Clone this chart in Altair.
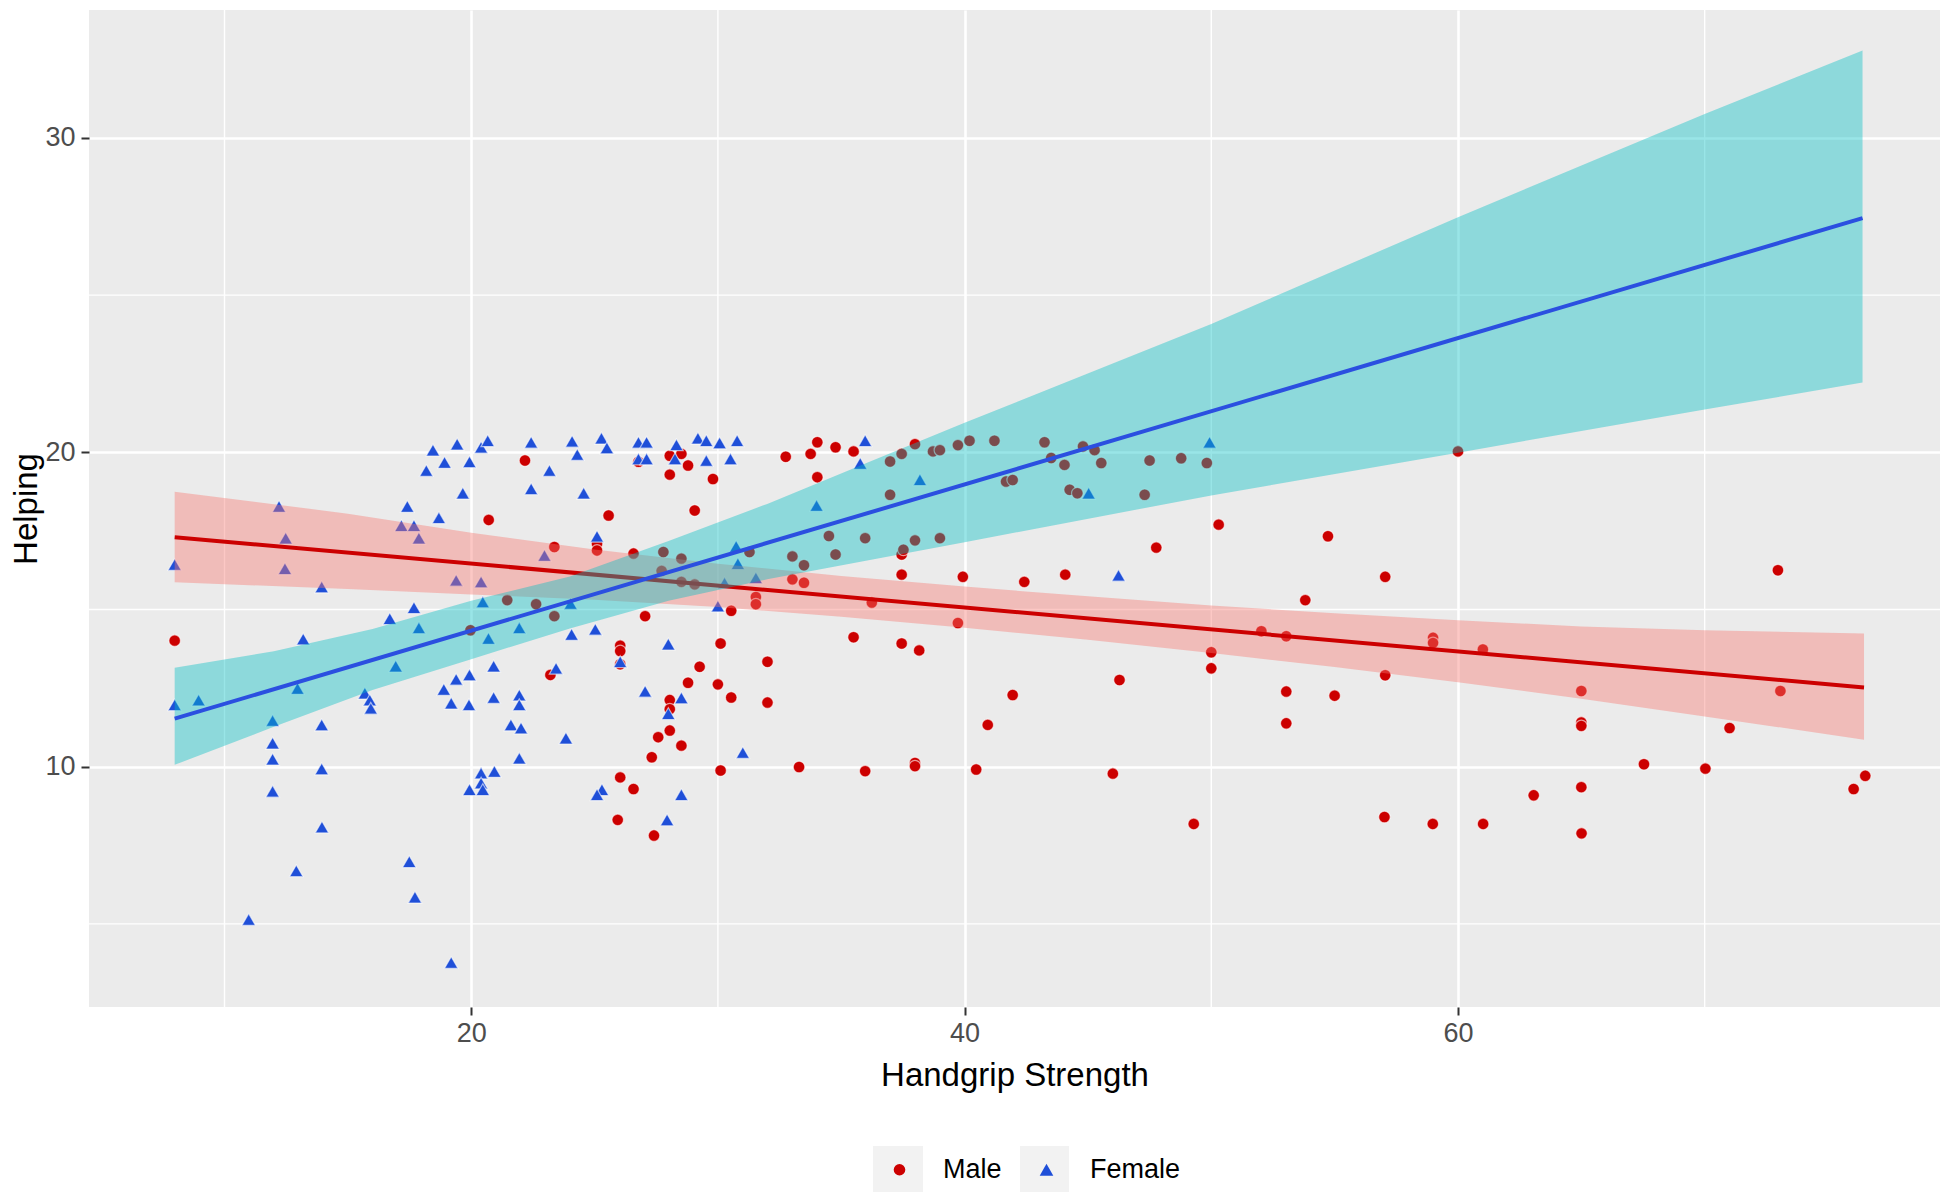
import altair as alt
import pandas as pd

FONT = "Liberation Sans"

# ---- data ----
male_pts = [
    (7.98, 14.01), (22.18, 19.74), (20.71, 17.85), (23.37, 16.99), (21.46, 15.30), (22.63, 15.17),
    (23.37, 14.79), (19.97, 14.34), (23.21, 12.92),
    (34.03, 20.32), (34.77, 20.16), (35.50, 20.03), (33.76, 19.95), (32.75, 19.86), (34.03, 19.21),
    (28.05, 19.89), (28.52, 19.95), (26.78, 19.70), (28.79, 19.58), (28.05, 19.29), (29.80, 19.15),
    (29.06, 18.15), (25.57, 17.99), (25.10, 17.09), (25.10, 16.88), (26.58, 16.78), (27.79, 16.83),
    (28.52, 16.62), (31.28, 16.83), (27.72, 16.23), (28.52, 15.88), (29.06, 15.80), (33.02, 16.69),
    (33.49, 16.41), (33.02, 15.96), (33.49, 15.85), (31.54, 15.40), (31.54, 15.17), (30.54, 14.96),
    (27.05, 14.79), (26.04, 13.85), (26.04, 13.68), (26.04, 13.26), (30.11, 13.92), (32.01, 13.34),
    (29.26, 13.18), (28.79, 12.67), (30.00, 12.62), (30.54, 12.20), (32.01, 12.04), (28.05, 12.12),
    (28.05, 11.83), (28.05, 11.15), (27.58, 10.94), (28.52, 10.67), (27.32, 10.30), (30.11, 9.88),
    (26.04, 9.66), (26.58, 9.29), (33.29, 9.99), (35.97, 9.86), (37.99, 10.12), (37.99, 10.02),
    (40.47, 9.91), (40.94, 11.33), (41.95, 12.28), (35.50, 14.12), (37.45, 13.92), (38.16, 13.70),
    (39.73, 14.57), (36.24, 15.22), (37.45, 16.11), (39.93, 16.04), (42.42, 15.88), (37.45, 16.75),
    (37.52, 16.90), (34.50, 17.34), (35.97, 17.27), (37.99, 17.20), (39.00, 17.27), (34.77, 16.75),
    (36.98, 18.65), (36.98, 19.71), (37.45, 19.95), (37.99, 20.26), (38.72, 20.03), (39.00, 20.07),
    (39.73, 20.23), (40.20, 20.37), (41.21, 20.37), (41.68, 19.07), (41.95, 19.12),
    (43.24, 20.32), (44.80, 20.19), (45.27, 20.07), (43.51, 19.82), (44.05, 19.60), (45.54, 19.66),
    (47.50, 19.74), (48.78, 19.81), (49.82, 19.66), (44.26, 18.81), (44.57, 18.70), (47.30, 18.65),
    (60.00, 20.03),
    (44.08, 16.11), (47.77, 16.97), (50.30, 17.70), (54.73, 17.33), (57.05, 16.04), (53.81, 15.30),
    (52.03, 14.31), (53.04, 14.15), (58.99, 14.10), (58.99, 13.94), (61.01, 13.73), (50.00, 13.64),
    (50.00, 13.13), (57.05, 12.91), (46.28, 12.76), (53.04, 12.39), (55.00, 12.26), (53.04, 11.38),
    (46.01, 9.78),
    (72.97, 16.25), (65.00, 12.41), (73.07, 12.41), (65.00, 11.41), (65.00, 11.30), (71.01, 11.23),
    (67.54, 10.08), (70.03, 9.94), (76.51, 9.71), (76.04, 9.29), (65.00, 9.35), (63.07, 9.09),
    (25.94, 8.31), (27.41, 7.81), (49.29, 8.18), (57.02, 8.40), (58.98, 8.18), (61.02, 8.18),
    (65.01, 7.88),
]

female_pts = [
    (7.98, 16.43), (7.98, 11.97), (8.95, 12.12), (12.21, 18.28), (12.48, 17.27), (12.45, 16.30),
    (13.94, 15.72), (13.19, 14.06), (12.96, 12.49), (11.95, 11.47), (11.95, 10.75), (11.95, 10.24),
    (13.94, 11.33), (13.94, 9.93), (11.95, 9.22), (15.69, 12.34), (15.89, 12.12), (15.93, 11.86),
    (16.94, 13.20), (16.70, 14.71), (17.41, 18.28), (17.17, 17.67), (17.68, 17.67), (17.88, 17.27),
    (17.88, 14.42), (17.68, 15.06), (18.69, 17.92), (19.66, 18.70), (18.45, 20.07), (18.18, 19.42),
    (18.92, 19.68), (19.43, 20.26), (19.93, 19.70), (20.40, 20.16), (20.67, 20.37), (19.39, 15.93),
    (20.40, 15.88), (20.47, 15.24), (20.70, 14.08), (21.95, 14.42), (22.43, 20.32), (23.17, 19.42),
    (22.43, 18.84), (22.97, 16.72), (20.91, 13.20), (18.89, 12.46), (19.39, 12.78), (19.93, 12.92),
    (19.19, 12.02), (19.91, 11.97), (20.91, 12.20), (21.95, 12.28), (21.95, 11.97), (21.61, 11.33),
    (22.02, 11.23), (21.95, 10.27), (20.40, 9.80), (20.94, 9.85), (20.40, 9.48), (19.93, 9.27),
    (20.47, 9.27), (23.84, 10.91), (23.44, 13.13),
    (24.09, 20.35), (24.30, 19.93), (25.28, 20.45), (25.50, 20.14), (26.78, 20.32), (27.11, 20.32),
    (26.78, 19.79), (27.11, 19.79), (28.32, 20.24), (28.26, 19.79), (29.19, 20.45), (29.53, 20.37),
    (30.07, 20.30), (30.78, 20.37), (29.53, 19.74), (30.51, 19.79), (24.56, 18.70), (25.10, 17.33),
    (35.97, 20.37), (35.77, 19.65), (34.00, 18.31), (38.19, 19.13), (30.74, 17.01), (30.81, 16.46),
    (31.54, 16.01), (30.27, 15.85), (30.00, 15.11), (24.03, 15.19), (24.07, 14.21), (25.03, 14.37),
    (27.99, 13.90), (26.04, 13.34), (27.05, 12.40), (28.52, 12.19), (27.99, 11.69), (31.01, 10.45),
    (25.30, 9.27), (25.10, 9.11), (28.52, 9.11),
    (49.93, 20.32), (45.03, 18.70), (46.24, 16.09),
    (13.95, 8.08), (12.91, 6.69), (10.98, 5.14), (17.49, 6.98), (17.72, 5.85), (19.19, 3.77),
    (27.94, 8.31),
]

# fitted lines (end points) and confidence bands
male_line_x = [7.98, 76.46]
male_line_y = [17.30, 12.52]
male_band_x = [7.98, 15, 20, 25, 30, 35, 40, 45, 50, 55, 60, 65, 70, 76.46]
male_band_lo = [15.87, 15.65, 15.48, 15.31, 15.08, 14.77, 14.42, 14.04, 13.62, 13.17, 12.69, 12.16, 11.60, 10.86]
male_band_hi = [18.75, 18.05, 17.44, 16.91, 16.46, 16.07, 15.73, 15.42, 15.13, 14.88, 14.66, 14.46, 14.34, 14.24]

female_line_x = [7.98, 76.40]
female_line_y = [11.53, 27.45]
female_band_x = [7.98, 12, 16, 20, 24, 28, 32, 36, 40, 50, 60, 70, 76.40]
female_band_lo = [10.06, 11.27, 12.44, 13.42, 14.40, 15.28, 15.96, 16.55, 17.14, 18.63, 19.99, 21.36, 22.22]
female_band_hi = [13.15, 13.67, 14.38, 15.28, 16.05, 17.18, 18.36, 19.65, 20.94, 24.08, 27.48, 30.76, 32.78]

groups = ["Male", "Female"]
point_colors = ["#CC0000", "#1F4FD8"]
x_major = [20, 40, 60]
x_minor = [10, 30, 50, 70]
y_major = [10, 20, 30]
y_minor = [5, 15, 25]

# ---- tables ----
pts = pd.DataFrame(
    [{"Handgrip": x, "Helping": y, "Sex": "Male"} for x, y in male_pts]
    + [{"Handgrip": x, "Helping": y, "Sex": "Female"} for x, y in female_pts]
)
mband = pd.DataFrame({"x": male_band_x, "lo": male_band_lo, "hi": male_band_hi})
fband = pd.DataFrame({"x": female_band_x, "lo": female_band_lo, "hi": female_band_hi})
mline = pd.DataFrame({"x": male_line_x, "y": male_line_y})
fline = pd.DataFrame({"x": female_line_x, "y": female_line_y})
xmin_df = pd.DataFrame({"v": x_minor})
ymin_df = pd.DataFrame({"v": y_minor})

xscale = alt.Scale(domain=[4.507, 79.54], nice=False, zero=False)
yscale = alt.Scale(domain=[2.357, 34.07], nice=False, zero=False)

xaxis = alt.Axis(values=x_major, title="Handgrip Strength", grid=True)
yaxis = alt.Axis(values=y_major, title="Helping", grid=True)

vgrid = alt.Chart(xmin_df).mark_rule(color="white", strokeWidth=1.4).encode(
    x=alt.X("v:Q", scale=xscale, axis=xaxis)
)
hgrid = alt.Chart(ymin_df).mark_rule(color="white", strokeWidth=1.4).encode(
    y=alt.Y("v:Q", scale=yscale, axis=yaxis)
)

legend = alt.Legend(
    title=None, orient="none", direction="horizontal", legendX=797, legendY=1146,
    labelFontSize=27, labelFont=FONT, labelColor="#000000", symbolSize=130,
    labelOffset=30, columnPadding=31, padding=0, symbolStrokeWidth=0,
)

points = alt.Chart(pts).mark_point(
    filled=True, opacity=1, stroke="white", strokeWidth=1.2, strokeOpacity=0.6
).encode(
    x=alt.X("Handgrip:Q", scale=xscale, axis=xaxis),
    y=alt.Y("Helping:Q", scale=yscale, axis=yaxis),
    color=alt.Color("Sex:N", scale=alt.Scale(domain=groups, range=point_colors), legend=legend),
    shape=alt.Shape("Sex:N", scale=alt.Scale(domain=groups, range=["circle", "triangle-up"]), legend=legend),
    size=alt.Size("Sex:N", scale=alt.Scale(domain=groups, range=[135, 185]), legend=None),
)

mband_l = alt.Chart(mband).mark_area(color="#F8766D", opacity=0.4).encode(
    x=alt.X("x:Q", scale=xscale), y=alt.Y("lo:Q", scale=yscale), y2="hi:Q"
)
mline_l = alt.Chart(mline).mark_line(color="#CC0000", strokeWidth=4).encode(
    x=alt.X("x:Q", scale=xscale), y=alt.Y("y:Q", scale=yscale)
)
fband_l = alt.Chart(fband).mark_area(color="#00BFC4", opacity=0.4).encode(
    x=alt.X("x:Q", scale=xscale), y=alt.Y("lo:Q", scale=yscale), y2="hi:Q"
)
fline_l = alt.Chart(fline).mark_line(color="#2B4FE0", strokeWidth=4).encode(
    x=alt.X("x:Q", scale=xscale), y=alt.Y("y:Q", scale=yscale)
)

# grey legend key backgrounds (decoration)
keys = alt.Chart(pd.DataFrame({"k": groups})).mark_rect(color="#F2F2F2").encode(
    x=alt.value(784), x2=alt.value(834), y=alt.value(1136), y2=alt.value(1185)
).transform_filter(alt.datum.k == "Male")
keys2 = alt.Chart(pd.DataFrame({"k": groups})).mark_rect(color="#F2F2F2").encode(
    x=alt.value(931), x2=alt.value(980), y=alt.value(1136), y2=alt.value(1185)
).transform_filter(alt.datum.k == "Female")

chart = alt.layer(
    vgrid, hgrid, keys, keys2, points, mband_l, mline_l, fband_l, fline_l
).properties(
    width=1851, height=997,
    autosize=alt.AutoSizeParams(type="none"),
    padding={"left": 81, "top": 2, "right": 0, "bottom": 185},
).configure_view(
    fill="#EBEBEB", stroke=None
).configure_axis(
    domain=False, gridColor="white", gridWidth=2.6, tickColor="#333333", tickWidth=2,
    tickSize=8, labelFont=FONT, labelFontSize=27, labelColor="#4D4D4D",
    titleFont=FONT, titleFontSize=33, titleColor="#000000", titleFontWeight="normal",
).configure_axisX(
    labelPadding=5, titlePadding=13
).configure_axisY(
    labelPadding=6, titlePadding=1
).configure_legend(
    labelFont=FONT
)

chart.save("out.html", embed_options={"renderer": "svg", "actions": False})
